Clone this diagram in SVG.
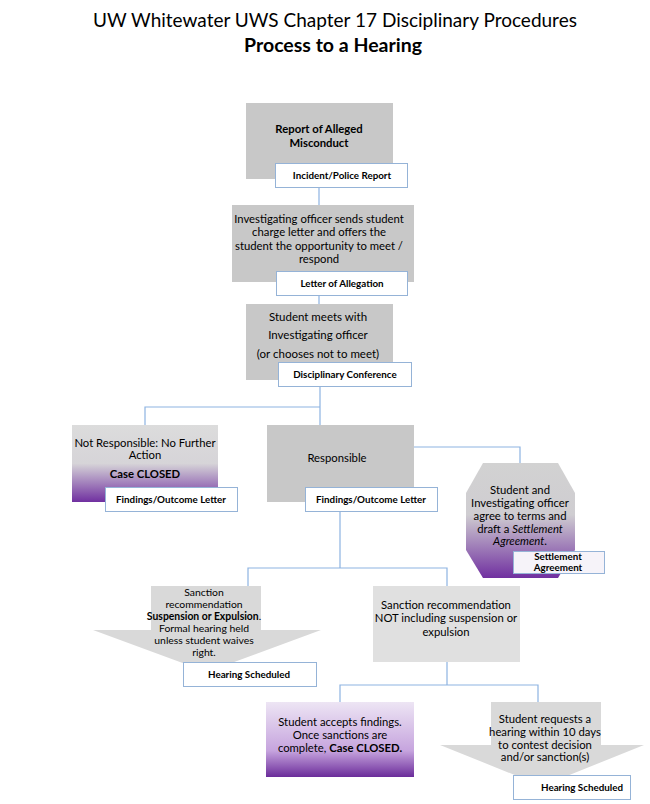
<svg xmlns="http://www.w3.org/2000/svg" width="650" height="804" viewBox="0 0 650 804">
<defs>
<linearGradient id="gPurpleA" x1="0" y1="0" x2="0" y2="1">
<stop offset="0" stop-color="#dcdcdc"/>
<stop offset="0.5" stop-color="#d6d4d8"/>
<stop offset="1" stop-color="#7030a0"/>
</linearGradient>
<linearGradient id="gPurpleB" x1="0" y1="0" x2="0" y2="1">
<stop offset="0" stop-color="#d2d2d2"/>
<stop offset="0.45" stop-color="#cfcdd1"/>
<stop offset="1" stop-color="#7030a0"/>
</linearGradient>
<linearGradient id="gPurpleC" x1="0" y1="0" x2="0" y2="1">
<stop offset="0" stop-color="#ede5f4"/>
<stop offset="0.65" stop-color="#c6a4de"/>
<stop offset="1" stop-color="#6b2c9a"/>
</linearGradient>
<style>
text{font-family:Lato,"Liberation Sans",sans-serif;fill:#000;text-anchor:middle}
.t{font-size:11.3px}
.tb{font-size:11.3px;font-weight:bold}
.s{font-size:10.4px}
.lb{font-size:9.8px;font-weight:bold}
.box{fill:#c8c8c8}
.lbl{fill:#fff;stroke:#95b3d7;stroke-width:1}
.con{fill:none;stroke:#8db3e2;stroke-width:1.2}
</style>
</defs>
<text x="335" y="27" style="font-size:19px">UW Whitewater UWS Chapter 17 Disciplinary Procedures</text>
<text x="333" y="52" style="font-size:19.5px;font-weight:bold">Process to a Hearing</text>

<g id="connectors">
<path class="con" d="M319 187V205"/>
<path class="con" d="M319 296V304"/>
<path class="con" d="M320 386V425M145 425V407H320"/>
<path class="con" d="M414 447H520V463"/>
<path class="con" d="M340 512V568M248 586V568H447V586"/>
<path class="con" d="M447 662V685M340 702V685H538V702"/>
</g>

<g id="n1">
<rect class="box" x="246" y="103" width="147" height="76"/>
<text class="tb" x="319" y="133">Report of Alleged</text>
<text class="tb" x="319" y="147">Misconduct</text>
<rect class="lbl" x="275.5" y="163.5" width="132" height="24"/>
<text class="lb" x="342" y="179">Incident/Police Report</text>
</g>

<g id="n2">
<rect class="box" x="232" y="205" width="182" height="77"/>
<text class="t" x="319" y="223">Investigating officer sends student</text>
<text class="t" x="319" y="236">charge letter and offers the</text>
<text class="t" x="319" y="250">student the opportunity to meet /</text>
<text class="t" x="319" y="263">respond</text>
<rect class="lbl" x="276.5" y="271.5" width="131" height="24"/>
<text class="lb" x="342" y="287">Letter of Allegation</text>
</g>

<g id="n3">
<rect class="box" x="246" y="304" width="147" height="76"/>
<text class="t" x="318" y="321" style="font-size:11.5px">Student meets with</text>
<text class="t" x="318" y="339" style="font-size:11.5px">Investigating officer</text>
<text class="t" x="318" y="358" style="font-size:11.5px">(or chooses not to meet)</text>
<rect class="lbl" x="278.5" y="362.5" width="133" height="24"/>
<text class="lb" x="345" y="378">Disciplinary Conference</text>
</g>

<g id="n4">
<rect x="72" y="425" width="146" height="77" fill="url(#gPurpleA)"/>
<text class="t" x="145" y="447">Not Responsible: No Further</text>
<text class="t" x="145" y="459">Action</text>
<text class="tb" x="145" y="478">Case CLOSED</text>
<rect class="lbl" x="105.5" y="487.5" width="132" height="24"/>
<text class="lb" x="171" y="503">Findings/Outcome Letter</text>
</g>

<g id="n5">
<rect class="box" x="267" y="425" width="147" height="77"/>
<text class="t" x="337" y="462">Responsible</text>
<rect class="lbl" x="305.5" y="487.5" width="132" height="24"/>
<text class="lb" x="371" y="503">Findings/Outcome Letter</text>
</g>

<g id="n6">
<polygon points="483,463 558,463 575,493 575,550 558,578 483,578 466,550 466,493" fill="url(#gPurpleB)"/>
<text class="t" x="520" y="494">Student and</text>
<text class="t" x="520" y="507">Investigating officer</text>
<text class="t" x="520" y="520">agree to terms and</text>
<text class="t" x="520" y="533">draft a <tspan font-style="italic">Settlement</tspan></text>
<text class="t" x="520" y="545"><tspan font-style="italic">Agreement</tspan>.</text>
<rect class="lbl" x="513.5" y="551.5" width="91" height="22" style="fill:#f6f3f9"/>
<text class="lb" x="558" y="560">Settlement</text>
<text class="lb" x="558" y="571">Agreement</text>
</g>

<g id="n7">
<polygon points="151,586 261,586 261,630 321,630 207,672 93,630 151,630" fill="#d9d9d9"/>
<text class="s" x="204" y="596">Sanction</text>
<text class="s" x="204" y="608">recommendation</text>
<text class="s" x="204" y="620" font-weight="bold">Suspension or Expulsion<tspan font-weight="normal">.</tspan></text>
<text class="s" x="204" y="632">Formal hearing held</text>
<text class="s" x="204" y="644">unless student waives</text>
<text class="s" x="204" y="656">right.</text>
<rect class="lbl" x="183.5" y="662.5" width="133" height="24"/>
<text class="lb" x="249" y="678">Hearing Scheduled</text>
</g>

<g id="n8">
<rect x="373" y="586" width="147" height="76" fill="#e0e0e0"/>
<text class="t" x="446" y="609">Sanction recommendation</text>
<text class="t" x="446" y="622">NOT including suspension or</text>
<text class="t" x="446" y="636">expulsion</text>
</g>

<g id="n9">
<rect x="266" y="702" width="148" height="75" fill="url(#gPurpleC)"/>
<text class="t" x="340" y="726">Student accepts findings.</text>
<text class="t" x="340" y="739">Once sanctions are</text>
<text class="t" x="340" y="752">complete, <tspan font-weight="bold">Case CLOSED.</tspan></text>
</g>

<g id="n10">
<polygon points="491,702 601,702 601,745 644,745 542,786 440,745 491,745" fill="#d9d9d9"/>
<text class="t" x="545" y="723">Student requests a</text>
<text class="t" x="545" y="736">hearing within 10 days</text>
<text class="t" x="545" y="749">to contest decision</text>
<text class="t" x="545" y="761">and/or sanction(s)</text>
<rect class="lbl" x="513.5" y="775.5" width="117" height="24"/>
<text class="lb" x="582" y="791">Hearing Scheduled</text>
</g>
</svg>
